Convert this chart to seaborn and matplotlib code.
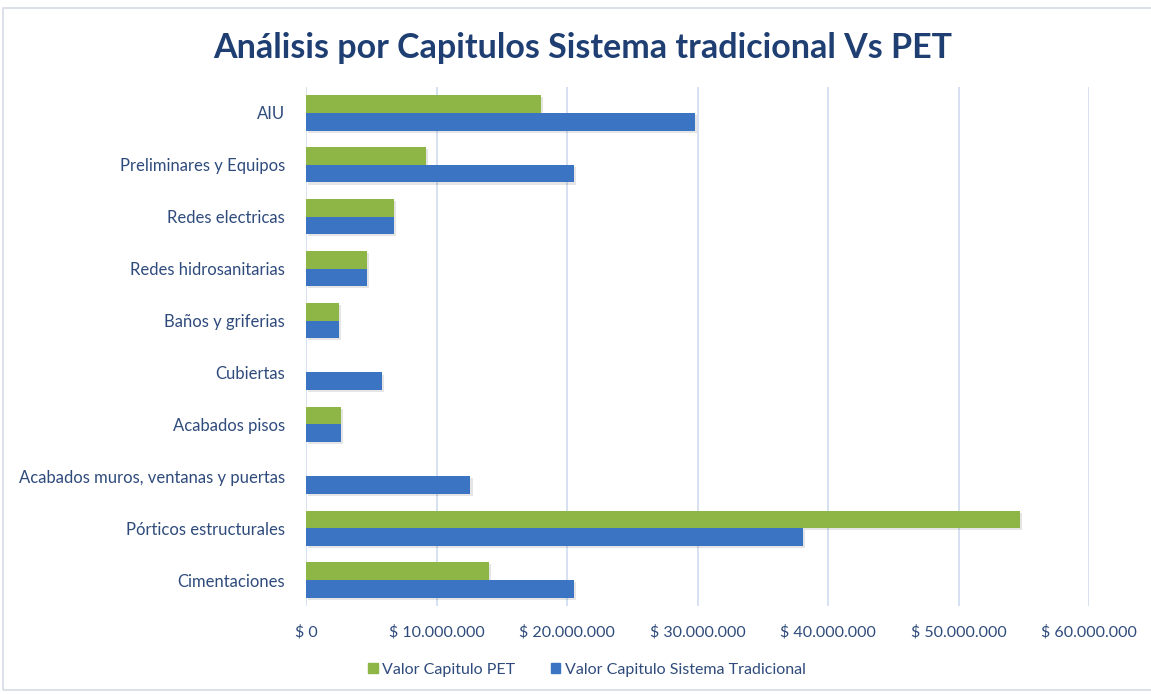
import matplotlib
matplotlib.use("Agg")
import matplotlib.pyplot as plt
import matplotlib.patheffects as pe
from matplotlib.patches import Rectangle
from matplotlib.ticker import FuncFormatter
import numpy as np
import pandas as pd
import seaborn as sns

categories = [
    "AIU",
    "Preliminares y Equipos",
    "Redes electricas",
    "Redes hidrosanitarias",
    "Baños y griferias",
    "Cubiertas",
    "Acabados pisos",
    "Acabados muros, ventanas y puertas",
    "Pórticos estructurales",
    "Cimentaciones",
]
valor_pet = [18.0e6, 9.2e6, 6.75e6, 4.7e6, 2.5e6, 0, 2.7e6, 0, 54.7e6, 14.0e6]
valor_tradicional = [29.8e6, 20.55e6, 6.75e6, 4.7e6, 2.5e6, 5.85e6, 2.7e6, 12.6e6, 38.05e6, 20.5e6]
series = ["Valor Capitulo PET", "Valor Capitulo Sistema Tradicional"]
colors = ["#8DB646", "#3A74C2"]
ticks = [0, 10e6, 20e6, 30e6, 40e6, 50e6, 60e6]

text_color = "#2F4B7C"

df = pd.DataFrame({
    "categoria": categories * 2,
    "valor": valor_pet + valor_tradicional,
    "serie": [series[0]] * len(categories) + [series[1]] * len(categories),
})

sns.set_theme(style="white")
plt.rcParams["font.family"] = ["Lato", "DejaVu Sans"]

fig = plt.figure(figsize=(11.51, 6.94), dpi=100)
ax = fig.add_axes([306 / 1151, 88 / 694, (1089 - 306) / 1151, (606 - 87) / 694])

sns.barplot(
    data=df, y="categoria", x="valor", hue="serie", order=categories,
    hue_order=series, palette=colors, orient="h", width=0.68,
    saturation=1, ax=ax, legend=False,
)

for bar in ax.patches:
    bar.set_edgecolor("none")
    bar.set_path_effects([
        pe.SimplePatchShadow(offset=(1.5, -1.5), shadow_rgbFace="#000000", alpha=0.1),
        pe.Normal(),
    ])

ax.set_xlim(0, 60e6)
ax.set_xticks(ticks)
ax.xaxis.set_major_formatter(
    FuncFormatter(lambda v, p: "$ " + f"{int(v):,}".replace(",", "."))
)
ax.grid(axis="x", color="#CFDCEF", linewidth=1.2)
ax.grid(axis="y", visible=False)
ax.set_axisbelow(True)
for s in ax.spines.values():
    s.set_visible(False)
ax.tick_params(axis="both", length=0, labelcolor=text_color)
ax.tick_params(axis="x", pad=14, labelsize=11.5)
ax.tick_params(axis="y", pad=15, labelsize=12)
ax.set_xlabel("")
ax.set_ylabel("")

fig.text(0.506, 0.931, "Análisis por Capitulos Sistema tradicional Vs PET",
         ha="center", va="center", fontsize=24.5, fontweight="bold",
         color="#1F3F73")

handles = [Rectangle((0, 0), 1, 1, color=c) for c in colors]
fig.legend(handles, series, loc="center", bbox_to_anchor=(0.51, 0.035),
           ncol=2, frameon=False, fontsize=11.5, handlelength=0.6,
           handleheight=0.6, handletextpad=0.3, columnspacing=2.2,
           labelcolor=text_color)

fig.patches.append(Rectangle((3 / 1151, 4 / 694), 1.2, 682 / 694,
                             transform=fig.transFigure, fill=False,
                             edgecolor="#D6DCE5", linewidth=1.2))

fig.savefig("out.png", dpi=100)
